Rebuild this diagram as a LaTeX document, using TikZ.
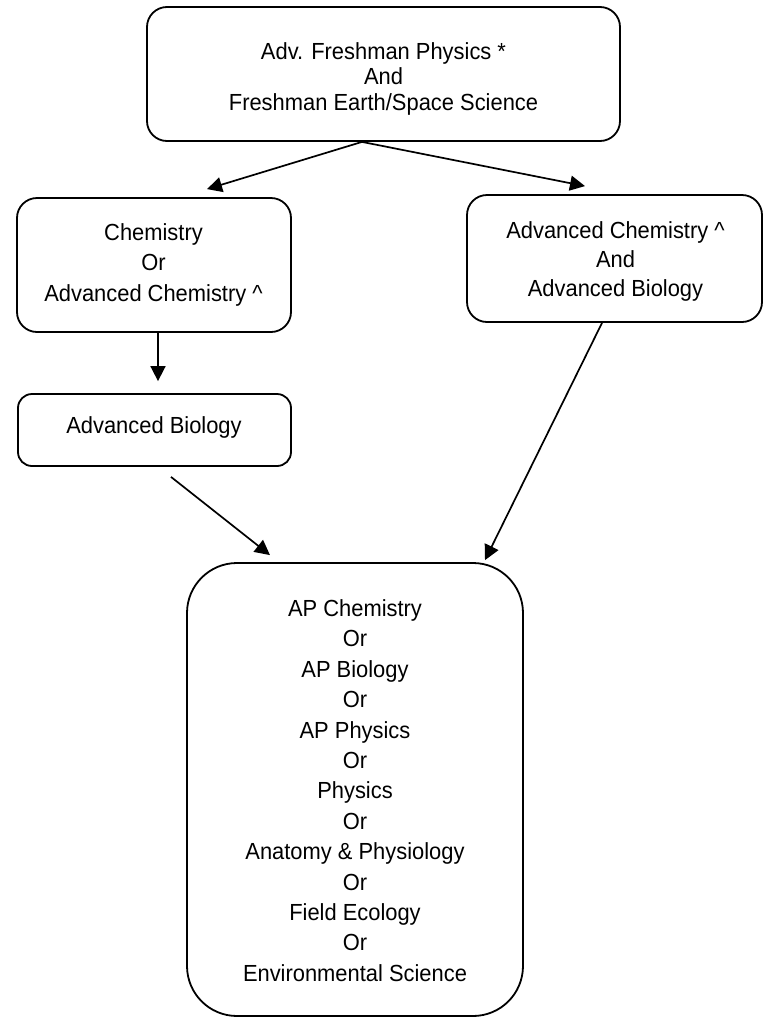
\documentclass[tikz,border=0pt]{standalone}
\usepackage{fontspec}
\setmainfont[FakeStretch=0.94]{Liberation Sans}
\usetikzlibrary{arrows.meta}
\begin{document}
\begin{tikzpicture}[x=1pt,y=-1pt,
  box/.style={draw, line width=1.8pt, rounded corners=#1, inner sep=0pt},
  box/.default=20pt,
  txt/.style={align=center, inner sep=0pt, font=\fontsize{23.3}{#1}\selectfont},
  arr/.style={line width=1.7pt, -{Triangle[length=15pt,width=15pt]}}]
\useasboundingbox (0,0) rectangle (763,1018);

% course boxes
\node[box, minimum width=473pt, minimum height=134pt] (top) at (383.5,74) {};
\node[box, minimum width=274pt, minimum height=134pt] (chem) at (154,265) {};
\node[box, minimum width=295pt, minimum height=127pt] (adv) at (614.5,258.5) {};
\node[box=14pt, minimum width=273pt, minimum height=72pt] (bio) at (154.5,430) {};
\node[box=50pt, minimum width=336pt, minimum height=453pt] (ap) at (355,789.5) {};

% course names
\node[txt=25.5] (topT) at (383.5,78.5) {Adv. Freshman Physics *\\And\\Freshman Earth/Space Science};
\node[txt=30.5] (chemT) at (153.5,264.5) {Chemistry\\Or\\Advanced Chemistry \textasciicircum};
\node[txt=29] (advT) at (615.5,261) {Advanced Chemistry \textasciicircum\\And\\Advanced Biology};
\node[txt=26] (bioT) at (154,427) {Advanced Biology};
\node[txt=30.4] (apT) at (355,790.5) {AP Chemistry\\Or\\AP Biology\\Or\\AP Physics\\Or\\Physics\\Or\\Anatomy \& Physiology\\Or\\Field Ecology\\Or\\Environmental Science};

% course sequence
\draw[arr] ([xshift=-21.5pt]top.south) -- ([xshift=53pt,yshift=8pt]chem.north);
\draw[arr] ([xshift=-21.5pt]top.south) -- ([xshift=-29.5pt,yshift=8pt]adv.north);
\draw[arr] ([xshift=4pt]chem.south) -- ([xshift=3.5pt,yshift=12pt]bio.north);
\draw[arr] ([xshift=16.5pt,yshift=-10pt]bio.south) -- ([xshift=-85pt,yshift=7pt]ap.north);
\draw[arr] ([xshift=-12.5pt]adv.south) -- ([xshift=130pt,yshift=2pt]ap.north);
\end{tikzpicture}
\end{document}
